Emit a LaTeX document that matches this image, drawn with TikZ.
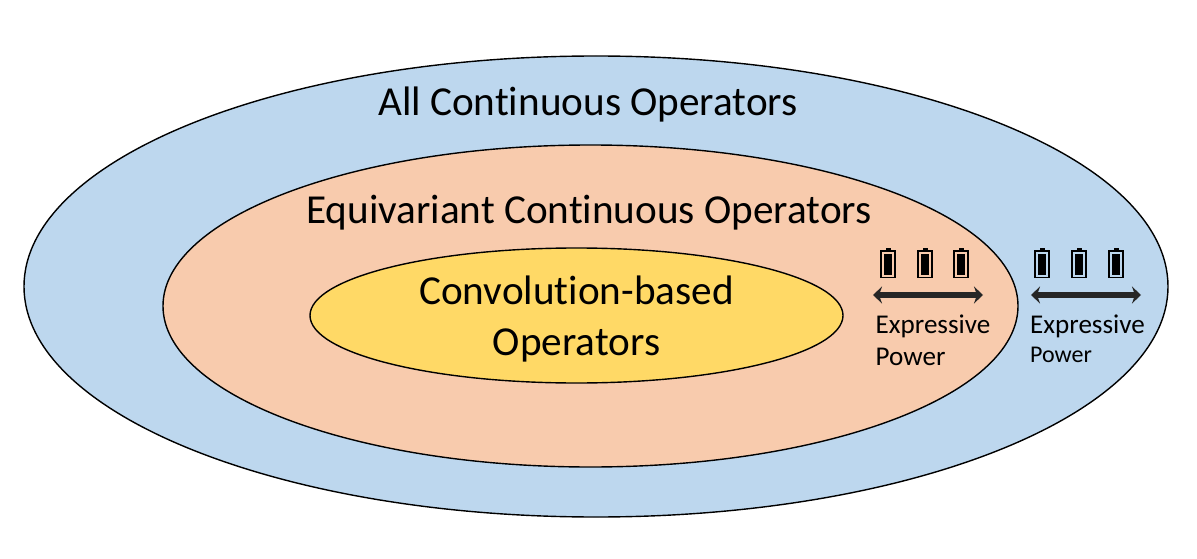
\documentclass[tikz,border=0pt]{standalone}
\usepackage{fontspec}
\setmainfont[RawFeature={-liga}]{Carlito}
\usetikzlibrary{arrows.meta}
\definecolor{outerblue}{HTML}{BDD7EE}
\definecolor{midorange}{HTML}{F8CBAD}
\definecolor{inneryellow}{HTML}{FFD966}
\tikzset{
  x=1pt,y=-1pt,
  region/.style={draw=black,line width=1.4pt},
  biglabel/.style={inner sep=0pt,font=\fontsize{41.2}{41.2}\selectfont,align=center},
  smalllabel/.style={inner sep=0pt,font=\fontsize{27.1}{27.1}\selectfont,anchor=base west},
  powerarrow/.style={{Stealth[length=9pt,width=17pt]}-{Stealth[length=9pt,width=17pt]},draw=black!85,line width=6pt},
}
\newcommand{\battery}[2]{%
  \fill[black] (#1-2.5,#2-15) rectangle (#1+2.5,#2-12);
  \draw[black,line width=1.5pt,fill=none] (#1-7,#2-12) rectangle (#1+7,#2+14.5);
  \fill[black] (#1-4,#2-9) rectangle (#1+4,#2+11.5);
}
\begin{document}
\begin{tikzpicture}
\useasboundingbox (0,0) rectangle (1197,559);
\fill[white] (0,0) rectangle (1197,559);
\draw[region,fill=outerblue] (596,286.5) ellipse [x radius=572,y radius=230.5];
\draw[region,fill=midorange] (590.5,306) ellipse [x radius=427.5,y radius=161];
\draw[region,fill=inneryellow] (576.5,315.5) ellipse [x radius=266.5,y radius=67.5];
\node[biglabel] (allops) at (588,105) {All Continuous Operators};
\node[biglabel] (equiops) at (589,213) {Equivariant Continuous Operators};
\node[biglabel,align=center] (convops) at (576.5,319) {Convolution-based\\[9pt]Operators};
\battery{888}{263}\battery{925}{263}\battery{961}{263}
\battery{1042}{263}\battery{1079}{263}\battery{1116}{263}
\coordinate (a1) at (873,295);\coordinate (a2) at (983,295);
\coordinate (b1) at (1031,295);\coordinate (b2) at (1141,295);
\draw[powerarrow] (a1) -- (a2);
\draw[powerarrow] (b1) -- (b2);
\node[smalllabel] (e1) at (875.5,333) {Expressive};
\node[smalllabel] (p1) at (875.5,365) {Power};
\node[smalllabel] (e2) at (1030,333) {Expressive};
\node[smalllabel,font=\fontsize{24}{24}\selectfont] (p2) at (1030,362) {Power};
\end{tikzpicture}
\end{document}
